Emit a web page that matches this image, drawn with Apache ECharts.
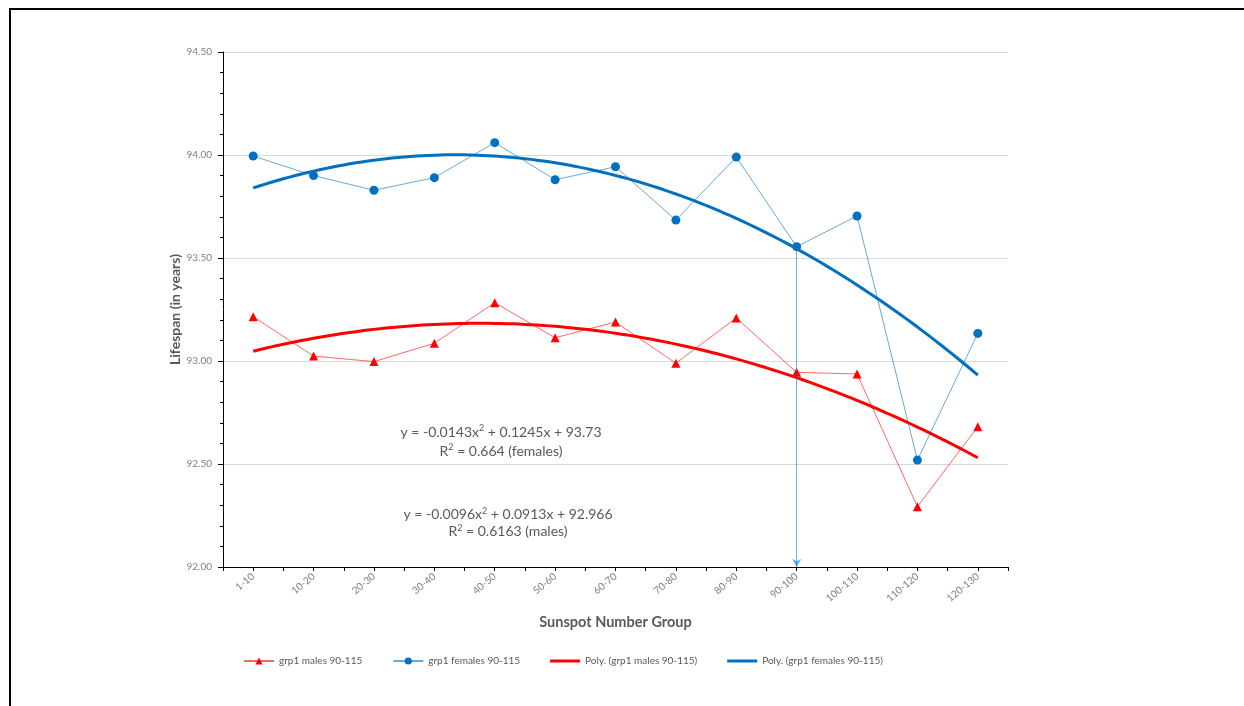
<!DOCTYPE html>
<html>
<head>
<meta charset="utf-8">
<title>Lifespan by Sunspot Number Group</title>
<script src="https://cdn.jsdelivr.net/npm/echarts@6/dist/echarts.min.js"></script>
<style>
  html, body { margin: 0; padding: 0; background: #fff; }
  #frame { position: absolute; left: 9px; top: 8px; width: 1240px; height: 700px;
           border-left: 2px solid #000; border-top: 2px solid #000; box-sizing: border-box; }
  #chart { position: absolute; left: 0; top: 0; width: 1244px; height: 706px; }
</style>
</head>
<body>
<div id="frame"></div>
<div id="chart"></div>
<script>
// Sunspot number groups (x categories)
const groups = ['1-10', '10-20', '20-30', '30-40', '40-50', '50-60', '60-70',
                '70-80', '80-90', '90-100', '100-110', '110-120', '120-130'];

// Mean lifespan (years) per group
const males   = [93.215, 93.024, 92.997, 93.086, 93.283, 93.113, 93.189,
                 92.989, 93.209, 92.945, 92.937, 92.293, 92.681];
const females = [93.995, 93.900, 93.829, 93.890, 94.060, 93.880, 93.943,
                 93.684, 93.990, 93.555, 93.704, 92.519, 93.134];

// Quadratic trend coefficients [a, b, c] for y = a*x^2 + b*x + c (x = group number)
const malesPoly   = [-0.0096, 0.0913, 92.966];
const femalesPoly = [-0.0143, 0.1245, 93.73];

const yTicks = [92.0, 92.5, 93.0, 93.5, 94.0, 94.5];

const trendStep = 0.1;
function trendPoints(coef) {
  const pts = [];
  for (let i = 0; i <= (groups.length - 1) / trendStep + 1e-9; i++) {
    const x = 1 + i * trendStep;
    pts.push([x, coef[0] * x * x + coef[1] * x + coef[2]]);
  }
  return pts;
}

const chart = echarts.init(document.getElementById('chart'), null, { renderer: 'canvas' });
const FONT = 'Lato, "Open Sans", sans-serif';
const TXT = '#595959';
const BAR_ICON = 'path://M0,0H30V3H0Z';

// rich-text styles for the trend equations (superscript squares)
function eqRich(lh) {
  return {
    t:   { fontSize: 14, fontFamily: FONT, fill: TXT, lineHeight: lh },
    sup: { fontSize: 9,  fontFamily: FONT, fill: TXT, lineHeight: lh,
           verticalAlign: 'top', padding: [1, 0, 0, 0] }
  };
}

chart.setOption({
  animation: false,
  textStyle: { fontFamily: FONT },
  grid: { left: 223, top: 52, right: 236, bottom: 139 },
  legend: {
    left: 238, top: 651,
    itemGap: 30, itemWidth: 30, itemHeight: 9,
    textStyle: { fontSize: 10, color: TXT, fontFamily: FONT },
    data: [
      { name: 'grp1 males 90-115' },
      { name: 'grp1 females 90-115' },
      { name: 'Poly. (grp1 males 90-115)', icon: BAR_ICON },
      { name: 'Poly. (grp1 females 90-115)', icon: BAR_ICON }
    ]
  },
  xAxis: [
    {
      type: 'category',
      data: groups,
      boundaryGap: true,
      name: 'Sunspot Number Group',
      nameLocation: 'middle',
      nameGap: 48,
      nameMoveOverlap: false,
      nameTextStyle: { fontSize: 14.5, fontWeight: 'bold', color: TXT, fontFamily: FONT },
      axisLine: { lineStyle: { color: '#000', width: 1 } },
      axisTick: { show: false },
      axisLabel: { rotate: 40, fontSize: 10, color: '#7f7f7f', margin: 8, interval: 0 }
    },
    {
      type: 'value',
      min: 0.5, max: 13.5, interval: 0.5,
      position: 'bottom',
      axisLine: { show: false },
      axisTick: { show: true, length: 4, lineStyle: { color: '#000' } },
      axisLabel: { show: false },
      splitLine: { show: false }
    }
  ],
  yAxis: {
    type: 'value',
    min: yTicks[0], max: yTicks[yTicks.length - 1], interval: 0.5,
    name: 'Lifespan (in years)',
    nameLocation: 'middle',
    nameGap: 41,
    nameMoveOverlap: false,
    nameTextStyle: { fontSize: 14, fontWeight: 'bold', color: TXT, fontFamily: FONT },
    axisLine: { show: true, lineStyle: { color: '#000', width: 1 } },
    axisTick: { show: true, length: 5, lineStyle: { color: '#000' } },
    minorTick: { show: true, splitNumber: 5, length: 3, lineStyle: { color: '#000' } },
    axisLabel: { fontSize: 10, color: '#7f7f7f', margin: 11,
                 formatter: v => v.toFixed(2) },
    splitLine: { lineStyle: { color: '#d9d9d9', width: 1 } }
  },
  series: [
    {
      name: 'grp1 males 90-115',
      type: 'line',
      data: males,
      symbol: 'triangle', symbolSize: 9,
      itemStyle: { color: '#ff0000' },
      lineStyle: { color: 'rgba(255,0,0,0.6)', width: 1 },
      z: 3
    },
    {
      name: 'grp1 females 90-115',
      type: 'line',
      data: females,
      symbol: 'circle', symbolSize: 9,
      itemStyle: { color: '#0070c0' },
      lineStyle: { color: 'rgba(0,112,192,0.6)', width: 1 },
      z: 3,
      markLine: {
        silent: true,
        symbol: ['none', 'arrow'],
        symbolSize: [7, 8],
        label: { show: false },
        lineStyle: { color: 'rgba(0,112,192,0.55)', width: 1, type: 'solid' },
        data: [[
          { coord: [9, females[9]] },
          { coord: [9, yTicks[0]] }
        ]]
      }
    },
    {
      name: 'Poly. (grp1 males 90-115)',
      type: 'line',
      xAxisIndex: 1,
      data: trendPoints(malesPoly),
      showSymbol: false, symbol: 'none',
      itemStyle: { color: '#ff0000' },
      lineStyle: { color: '#ff0000', width: 3 },
      z: 2
    },
    {
      name: 'Poly. (grp1 females 90-115)',
      type: 'line',
      xAxisIndex: 1,
      data: trendPoints(femalesPoly),
      showSymbol: false, symbol: 'none',
      itemStyle: { color: '#0070c0' },
      lineStyle: { color: '#0070c0', width: 3 },
      z: 2
    }
  ],
  graphic: [
    {
      type: 'text',
      style: {
        x: 501, y: 422.5, align: 'center', verticalAlign: 'top',
        fill: TXT,
        text: '{t|y = -0.0143x}{sup|2}{t| + 0.1245x + 93.73}\n{t|R}{sup|2}{t| = 0.664 (females)}',
        rich: eqRich(19)
      }
    },
    {
      type: 'text',
      style: {
        x: 508, y: 506, align: 'center', verticalAlign: 'top',
        fill: TXT,
        text: '{t|y = -0.0096x}{sup|2}{t| + 0.0913x + 92.966}\n{t|R}{sup|2}{t| = 0.6163 (males)}',
        rich: eqRich(17)
      }
    }
  ]
});
</script>
</body>
</html>
